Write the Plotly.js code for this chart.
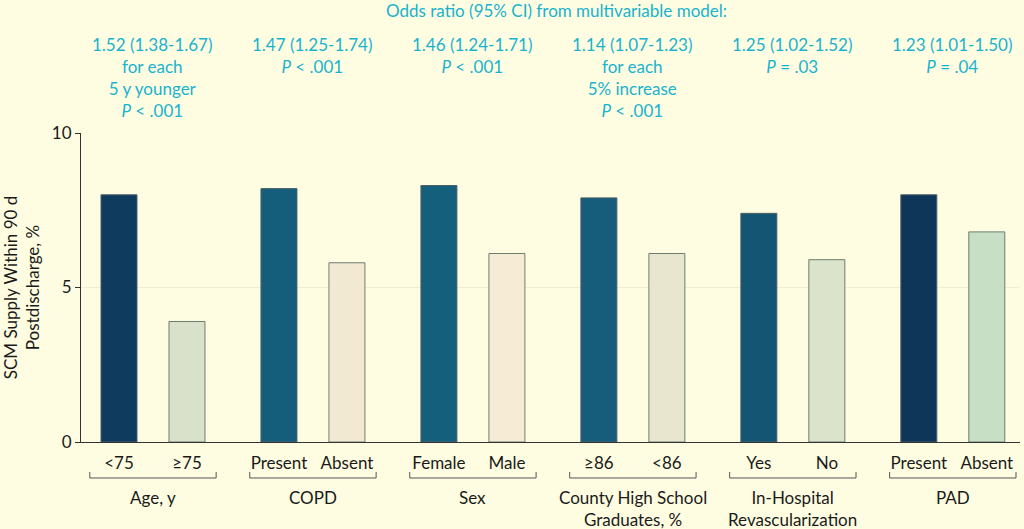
<!DOCTYPE html>
<html>
<head>
<meta charset="utf-8">
<script src="https://cdn.plot.ly/plotly-3.0.1.min.js"></script>
<style>
    html, body { margin: 0; padding: 0; background: #fefde1; }
    #chart { width: 1024px; height: 529px; }
</style>
</head>
<body>
<div id="chart"></div>
<script>
// SCM supply within 90 d postdischarge, by patient characteristic

const groupNames = ['Age, y', 'COPD', 'Sex', 'County High School<br>Graduates, %', 'In-Hospital<br>Revascularization', 'PAD'];
const firstLabels = ['<75', 'Present', 'Female', '≥86', 'Yes', 'Present'];
const secondLabels = ['≥75', 'Absent', 'Male', '<86', 'No', 'Absent'];
const firstValues = [8.0, 8.2, 8.3, 7.9, 7.4, 8.0];
const secondValues = [3.9, 5.8, 6.1, 6.1, 5.9, 6.8];
const oddsRatios = ['1.52 (1.38-1.67)', '1.47 (1.25-1.74)', '1.46 (1.24-1.71)', '1.14 (1.07-1.23)', '1.25 (1.02-1.52)', '1.23 (1.01-1.50)'];
const orNotes = ['for each<br>5 y younger', '', '', 'for each<br>5% increase', '', ''];
const pValues = ['<i>P</i> < .001', '<i>P</i> < .001', '<i>P</i> < .001', '<i>P</i> < .001', '<i>P</i> = .03', '<i>P</i> = .04'];

// bar colours (dark = first level, light = second level)
const firstColors = ['#0f3b5e', '#155e7b', '#14607c', '#155d7b', '#135573', '#0d3659'];
const secondColors = ['#d9e1cb', '#f2e9d3', '#f6ecd6', '#e8e6cf', '#dbe3cb', '#c6dfc5'];

const FONT = 'Lato, "Open Sans", sans-serif';
const CYAN = '#19b2cf';
const OFFSET = 0.2125;   // half distance between the two bars of a group
const BAR_W = 0.225;

const groupX = groupNames.map((_, i) => i);
const firstX = groupX.map(x => x - OFFSET);
const secondX = groupX.map(x => x + OFFSET);

const traces = [
    {
        type: 'bar',
        x: firstX,
        y: firstValues,
        width: BAR_W,
        marker: { color: firstColors, line: { color: '#4d5f66', width: 1 } },
        hoverinfo: 'y'
    },
    {
        type: 'bar',
        x: secondX,
        y: secondValues,
        width: BAR_W,
        marker: { color: secondColors, line: { color: '#6f7d70', width: 1 } },
        hoverinfo: 'y'
    }
];

// bracket under each pair of tick labels
const shapes = groupX.map(x => ({
    type: 'path',
    xref: 'x',
    yref: 'paper',
    path: `M ${x - 0.395} -0.097 L ${x - 0.395} -0.1165 L ${x + 0.395} -0.1165 L ${x + 0.395} -0.097`,
    line: { color: '#555', width: 1 }
}));

const annotations = [];
// header
annotations.push({
    text: 'Odds ratio (95% CI) from multivariable model:',
    xref: 'paper', yref: 'paper', x: 0.506, y: 1.395,
    xanchor: 'center', yanchor: 'middle', showarrow: false,
    font: { family: FONT, size: 17, color: CYAN }
});
// odds ratio text above each group
groupX.forEach((x, i) => {
    const lines = [oddsRatios[i]];
    if (orNotes[i]) lines.push(orNotes[i]);
    lines.push(pValues[i]);
    annotations.push({
        text: lines.join('<br>'),
        xref: 'x', yref: 'paper', x: x, y: 1.326,
        xanchor: 'center', yanchor: 'top', showarrow: false,
        font: { family: FONT, size: 17, color: CYAN }
    });
    // group label under bracket
    annotations.push({
        text: groupNames[i],
        xref: 'x', yref: 'paper', x: x, y: -0.138,
        xanchor: 'center', yanchor: 'top', showarrow: false,
        font: { family: FONT, size: 17, color: '#1a1a1a' }
    });
});

const layout = {
    width: 1024,
    height: 529,
    paper_bgcolor: '#fefde1',
    plot_bgcolor: '#fefde1',
    margin: { l: 81, r: 4, t: 133, b: 87 },
    showlegend: false,
    barmode: 'overlay',
    font: { family: FONT, size: 17, color: '#1a1a1a' },
    xaxis: {
        range: [-0.45, 5.42],
        tickvals: firstX.concat(secondX),
        ticktext: firstLabels.concat(secondLabels),
        ticks: '',
        ticklabelstandoff: 6,
        showgrid: false,
        zeroline: false,
        showline: true,
        linecolor: '#333',
        linewidth: 1,
        fixedrange: true
    },
    yaxis: {
        range: [0, 10],
        tickvals: [0, 5, 10],
        ticks: 'outside',
        ticklen: 5,
        tickcolor: '#333',
        showgrid: true,
        gridcolor: '#f4eccf',
        zeroline: false,
        showline: true,
        linecolor: '#333',
        linewidth: 1,
        title: {
            text: 'SCM Supply Within 90 d<br>Postdischarge, %',
            standoff: 12,
            font: { family: FONT, size: 17, color: '#1a1a1a' }
        },
        fixedrange: true
    },
    shapes: shapes,
    annotations: annotations
};

Plotly.newPlot('chart', traces, layout, { displayModeBar: false, staticPlot: true });
</script>
</body>
</html>
